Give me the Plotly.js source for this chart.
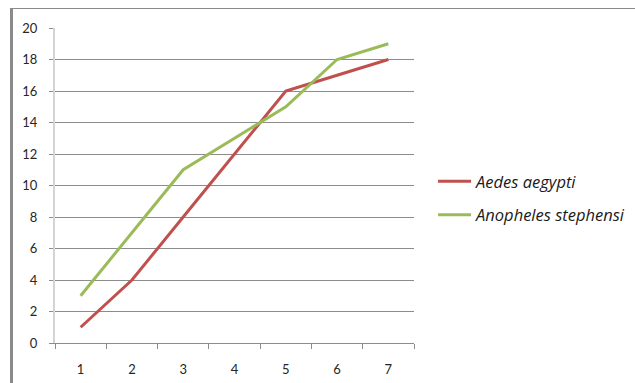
<!DOCTYPE html>
<html>
<head>
<meta charset="utf-8">
<script src="https://cdn.plot.ly/plotly-3.0.1.min.js"></script>
<style>
  html, body { margin: 0; padding: 0; background: #ffffff; }
  #wrap { position: relative; width: 635px; height: 383px; overflow: hidden; }
  #chart { position: absolute; left: 0; top: 0; width: 635px; height: 383px; }
  /* outer chart-area frame */
  #frame { position: absolute; left: 10px; top: 8px; width: 700px; height: 450px;
           border-left: 3px solid #8a8a8a; border-top: 1px solid #8a8a8a; pointer-events: none; }
</style>
</head>
<body>
<div id="wrap">
  <div id="chart"></div>
  <div id="frame"></div>
</div>
<script>
// Days / time points on the x axis
const categories = ['1', '2', '3', '4', '5', '6', '7'];
// Series values
const aedesAegypti = [1, 4, 8, 12, 16, 17, 18];
const anophelesStephensi = [3, 7, 11, 13, 15, 18, 19];
// Y axis tick values
const yTicks = [0, 2, 4, 6, 8, 10, 12, 14, 16, 18, 20];

const traces = [
  {
    x: categories, y: aedesAegypti, name: 'Aedes aegypti',
    type: 'scatter', mode: 'lines', legendgroup: 'a',
    line: { color: '#C0504D', width: 3 }
  },
  {
    x: categories, y: anophelesStephensi, name: 'Anopheles stephensi',
    type: 'scatter', mode: 'lines', legendgroup: 'b',
    line: { color: '#9BBB59', width: 3 }
  }
];

const layout = {
  width: 635, height: 383,
  margin: { l: 55, r: 221, t: 28, b: 40 },
  paper_bgcolor: '#ffffff', plot_bgcolor: '#ffffff',
  font: { family: 'Lato, "Open Sans", sans-serif', size: 13, color: '#262626' },
  showlegend: true,
  legend: {
    xref: 'container', yref: 'container',
    x: 0.682, y: 0.483, xanchor: 'left', yanchor: 'middle',
    traceorder: 'grouped', tracegroupgap: 9,
    font: { family: '"Open Sans", Lato, sans-serif', size: 16.5, style: 'italic', color: '#1a1a1a' },
    bgcolor: 'rgba(0,0,0,0)', itemwidth: 33
  },
  xaxis: {
    type: 'category', tickson: 'boundaries', range: [-0.5, 6.5],
    ticks: 'outside', ticklen: 5, tickcolor: '#8c8c8c', tickwidth: 1,
    showgrid: false, showline: true, linecolor: '#8c8c8c', linewidth: 1,
    zeroline: false, ticklabelstandoff: 14, fixedrange: true
  },
  yaxis: {
    range: [0, 20], tickvals: yTicks, ticktext: yTicks.map(String),
    ticks: 'outside', ticklen: 4, tickcolor: '#8c8c8c',
    showgrid: true, gridcolor: '#8c8c8c', gridwidth: 1,
    showline: true, linecolor: '#d4d4d4', linewidth: 2,
    zeroline: false, ticklabelstandoff: 9, fixedrange: true
  }
};

Plotly.newPlot('chart', traces, layout, { staticPlot: true, displayModeBar: false });
</script>
</body>
</html>
